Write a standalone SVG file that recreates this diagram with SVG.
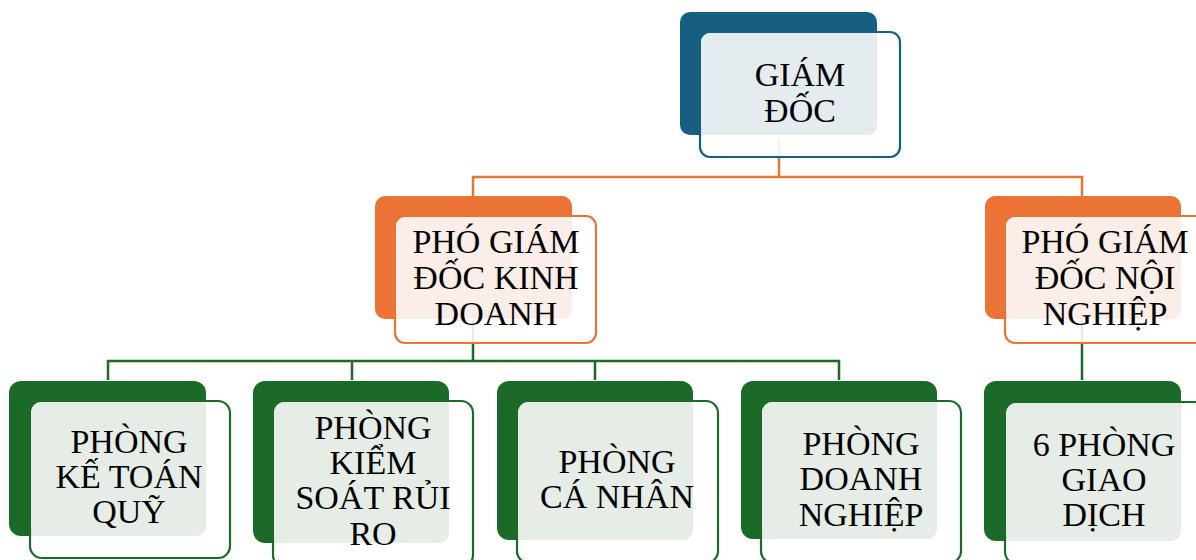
<svg xmlns="http://www.w3.org/2000/svg" width="1196" height="560" viewBox="0 0 1196 560" font-family="'Liberation Serif', 'DejaVu Serif', serif">
<style>
text{font-family:'Liberation Serif','DejaVu Serif',serif;font-size:34px;fill:#000;text-anchor:middle}
.fr{fill:#fff;fill-opacity:.88;stroke-width:2.2}
.b .bk{fill:#175F80}.b .fr{stroke:#175F80}.b .lt{fill:#E5ECF0}
.o .bk{fill:#EB7335}.o .fr{stroke:#EB7335}.o .lt{fill:#FBEEE8}
.g .bk{fill:#1C6A27}.g .fr{stroke:#1C6A27}.g .lt{fill:#E6EDE7}
.co{fill:none;stroke:#EB7335;stroke-width:2.5}
.cg{fill:none;stroke:#1C6A27;stroke-width:2.5}
</style>
<rect width="1196" height="560" fill="#fff"/>
<g id="connectors">
<path class="co" d="M779,138V177M473,196V177H1082V196"/>
<path class="cg" d="M473,320V361M108,380V361H839V380M352,361V380M595,361V380M1082,320V380"/>
</g>
<g id="giam-doc" class="b">
<rect class="bk" x="680" y="12" width="197" height="123" rx="10"/>
<rect class="fr" x="700" y="32" width="200" height="125" rx="10"/>
<rect class="lt" x="701" y="33" width="176" height="102" rx="9"/>
<text x="800" y="86">GIÁM</text><text x="800" y="122">ĐỐC</text>
</g>
<g id="pho-giam-doc-kinh-doanh" class="o">
<rect class="bk" x="375" y="196" width="197" height="123" rx="10"/>
<rect class="fr" x="395" y="216" width="201" height="127" rx="10"/>
<rect class="lt" x="396" y="217" width="176" height="102" rx="9"/>
<text x="496" y="253">PHÓ GIÁM</text><text x="496" y="289">ĐỐC KINH</text><text x="496" y="325">DOANH</text>
</g>
<g id="pho-giam-doc-noi-nghiep" class="o">
<rect class="bk" x="985" y="196" width="196" height="123" rx="10"/>
<rect class="fr" x="1005" y="216" width="201" height="127" rx="10"/>
<rect class="lt" x="1006" y="217" width="175" height="102" rx="9"/>
<text x="1105" y="253">PHÓ GIÁM</text><text x="1105" y="289">ĐỐC NỘI</text><text x="1105" y="325">NGHIỆP</text>
</g>
<g id="phong-ke-toan-quy" class="g">
<rect class="bk" x="9" y="381" width="197" height="155" rx="12"/>
<rect class="fr" x="30" y="401" width="200" height="157" rx="12"/>
<rect class="lt" x="31" y="402" width="175" height="134" rx="10"/>
<text x="129" y="453">PHÒNG</text><text x="129" y="488">KẾ TOÁN</text><text x="129" y="523">QUỸ</text>
</g>
<g id="phong-kiem-soat-rui-ro" class="g">
<rect class="bk" x="253" y="381" width="196" height="162" rx="12"/>
<rect class="fr" x="273" y="401" width="200" height="166" rx="12"/>
<rect class="lt" x="274" y="402" width="175" height="141" rx="10"/>
<text x="373" y="439">PHÒNG</text><text x="373" y="474">KIỂM</text><text x="373" y="509">SOÁT RỦI</text><text x="373" y="545">RO</text>
</g>
<g id="phong-ca-nhan" class="g">
<rect class="bk" x="497" y="381" width="196" height="159" rx="12"/>
<rect class="fr" x="517" y="401" width="201" height="162" rx="12"/>
<rect class="lt" x="518" y="402" width="175" height="138" rx="10"/>
<text x="617" y="473">PHÒNG</text><text x="617" y="508">CÁ NHÂN</text>
</g>
<g id="phong-doanh-nghiep" class="g">
<rect class="bk" x="741" y="381" width="196" height="158" rx="12"/>
<rect class="fr" x="761" y="401" width="200" height="162" rx="12"/>
<rect class="lt" x="762" y="402" width="175" height="137" rx="10"/>
<text x="861" y="455">PHÒNG</text><text x="861" y="490">DOANH</text><text x="861" y="526">NGHIỆP</text>
</g>
<g id="sau-phong-giao-dich" class="g">
<rect class="bk" x="984" y="381" width="197" height="160" rx="12"/>
<rect class="fr" x="1005" y="402" width="201" height="162" rx="12"/>
<rect class="lt" x="1006" y="403" width="175" height="138" rx="10"/>
<text x="1104" y="456">6 PHÒNG</text><text x="1104" y="491">GIAO</text><text x="1104" y="526">DỊCH</text>
</g>
</svg>
